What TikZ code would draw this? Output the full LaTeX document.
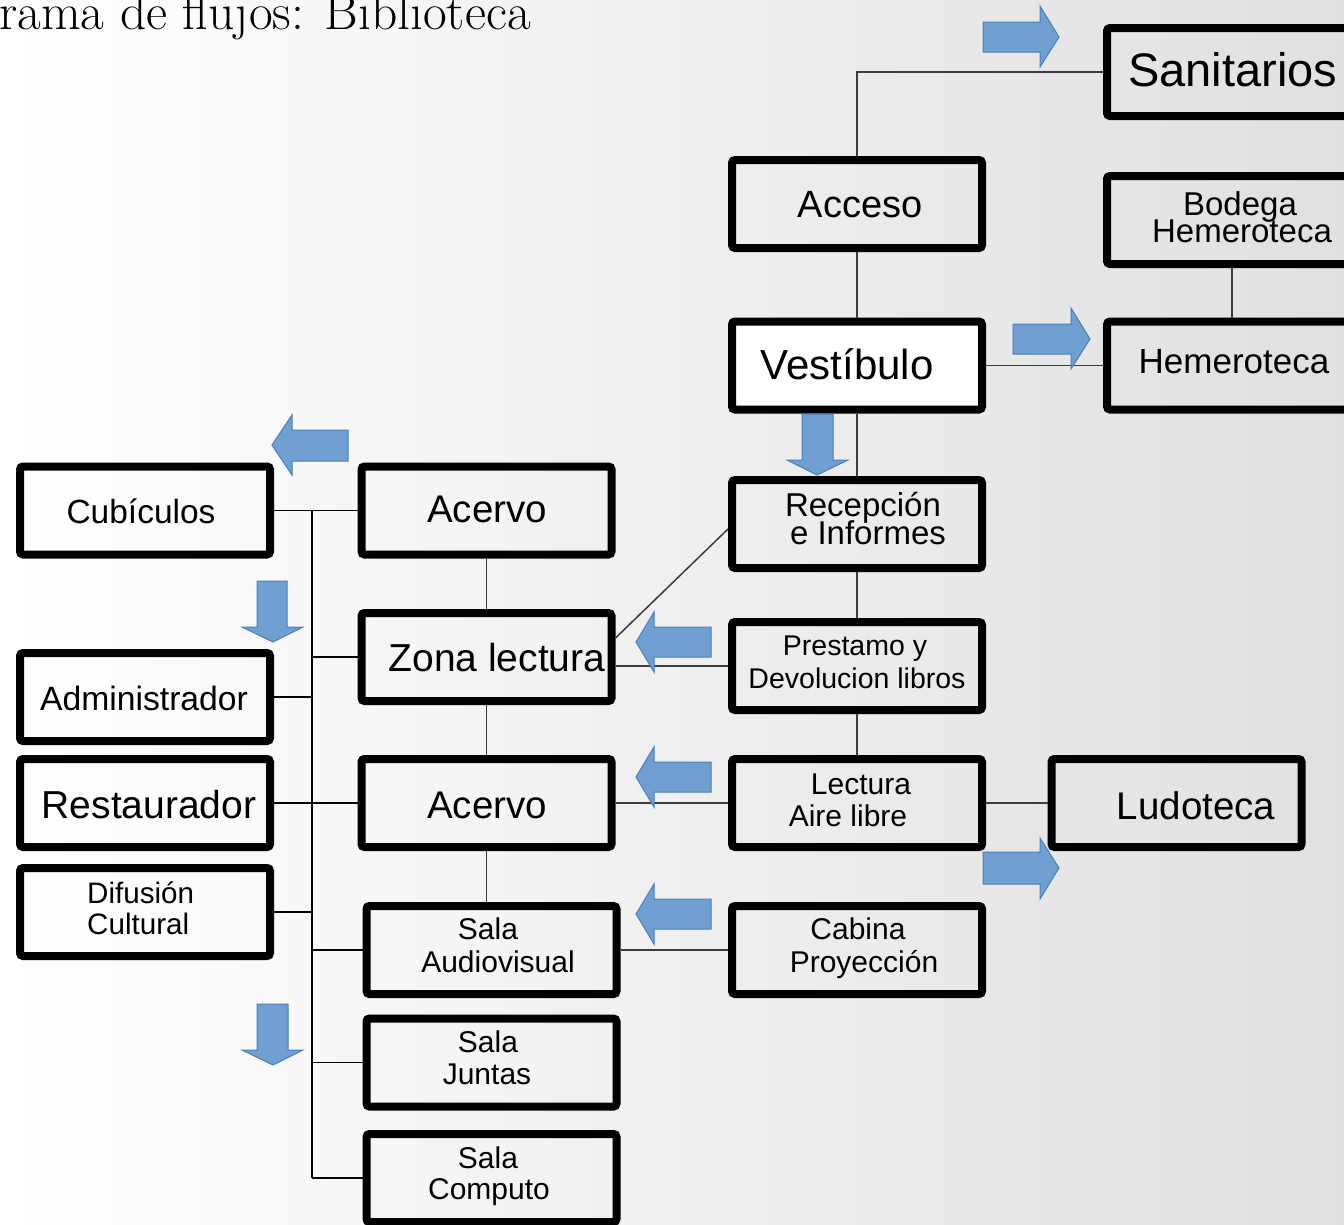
\documentclass[tikz,border=0pt]{standalone}
\usepackage{fontspec}
\newfontfamily\arialf{Liberation Sans}
\definecolor{arrowfill}{RGB}{112,159,210}
\definecolor{arrowedge}{RGB}{74,126,187}
\definecolor{connc}{RGB}{60,60,60}
\tikzset{
 box/.style={draw=black, line width=8pt, rounded corners=3pt, minimum width=250pt, minimum height=88pt, inner sep=0pt},
 lbl/.style={font=\arialf\fontsize{#1}{#1}\selectfont, inner sep=0pt, anchor=base},
 lbl/.default=30,
 conn/.style={draw=connc, line width=1.5pt},
 barrow/.style={fill=arrowfill, draw=arrowedge, line width=1pt, line join=miter},
}
\begin{document}
\begin{tikzpicture}[x=1pt,y=-1pt]
\useasboundingbox (0,0) rectangle (1344,1224);
\begin{scope}
\clip (0,0) rectangle (1344,1224);
\shade[left color=white, right color=black!12] (0,0) rectangle (1344,1224);

% title
\node[font=\fontsize{51.5}{51.5}\selectfont, anchor=base west, inner sep=0pt] (title) at (-1,29) {rama de flujos: Biblioteca};

% boxes
\node[box] (sanitarios) at (1232,72) {};
\node[box] (acceso) at (857,204) {};
\node[box] (bodega) at (1232,220) {};
\node[box, fill=white] (vestibulo) at (857,365.5) {};
\node[box] (hemeroteca) at (1232,365.5) {};
\node[box] (recepcion) at (857,524) {};
\node[box] (prestamo) at (857,666) {};
\node[box] (lectura) at (857,803) {};
\node[box] (ludoteca) at (1176.5,803) {};
\node[box] (cabina) at (857,950) {};
\node[box] (acervoA) at (486.5,510.5) {};
\node[box] (zona) at (486.5,657) {};
\node[box] (acervoB) at (486.5,803) {};
\node[box] (salaav) at (491.5,950) {};
\node[box] (salaj) at (491.5,1062.5) {};
\node[box] (salac) at (491.5,1178) {};
\node[box] (cubiculos) at (145,510.5) {};
\node[box] (admin) at (145,697) {};
\node[box] (restaurador) at (145,803) {};
\node[box] (difusion) at (145,912) {};

% labels
\node[lbl=47, anchor=base west] (t-san) at (1128,86) {Sanitarios};
\node[lbl=38] (t-acc) at (860,217) {Acceso};
\node[lbl=33] (t-bod1) at (1240,215) {Bodega};
\node[lbl=33] (t-bod2) at (1242,242) {Hemeroteca};
\node[lbl=42] (t-ves) at (847,379) {Vestíbulo};
\node[lbl=35] (t-hem) at (1234,373) {Hemeroteca};
\node[lbl=33] (t-rec1) at (863,516) {Recepción};
\node[lbl=33] (t-rec2) at (868,544) {e Informes};
\node[lbl=28.5] (t-pre1) at (855,655) {Prestamo y};
\node[lbl=28.5] (t-pre2) at (857,688) {Devolucion libros};
\node[lbl=30] (t-lec1) at (861,794) {Lectura};
\node[lbl=30] (t-lec2) at (848,826) {Aire libre};
\node[lbl=38.5] (t-lud) at (1196,819) {Ludoteca};
\node[lbl=30] (t-cab1) at (858,939) {Cabina};
\node[lbl=30] (t-cab2) at (864,972) {Proyección};
\node[lbl=38.5] (t-acA) at (487,522) {Acervo};
\node[lbl=39] (t-zon) at (497,671) {Zona lectura};
\node[lbl=38.5] (t-acB) at (487,818) {Acervo};
\node[lbl=30] (t-av1) at (488,939) {Sala};
\node[lbl=30] (t-av2) at (498,972) {Audiovisual};
\node[lbl=30] (t-sj1) at (488,1052) {Sala};
\node[lbl=30] (t-sj2) at (487,1084) {Juntas};
\node[lbl=30] (t-sc1) at (488,1168) {Sala};
\node[lbl=30] (t-sc2) at (489,1199) {Computo};
\node[lbl=33.5] (t-cub) at (141,523) {Cubículos};
\node[lbl=33.7] (t-adm) at (144,710) {Administrador};
\node[lbl=39] (t-res) at (149,818) {Restaurador};
\node[lbl=29.6, anchor=base west] (t-dif1) at (87,903) {Difusión};
\node[lbl=29.6, anchor=base west] (t-dif2) at (87,934) {Cultural};

% connectors
\draw[conn] (acceso.north) |- (sanitarios.west);
\draw[conn] (acceso.south) -- (vestibulo.north);
\draw[conn] (vestibulo.south) -- (recepcion.north);
\draw[conn] (recepcion.south) -- (prestamo.north);
\draw[conn] (prestamo.south) -- (lectura.north);
\draw[conn] (vestibulo.east) -- (hemeroteca.west);
\draw[conn] (bodega.south) -- (hemeroteca.north);
\draw[conn] (lectura.east) -- (ludoteca.west);
\draw[conn] ([yshift=-5pt]recepcion.west) -- ([yshift=19pt]zona.east);
\draw[conn] (prestamo.west) -- (prestamo.west -| zona.east);
\draw[conn] (lectura.west) -- (acervoB.east);
\draw[conn] (cabina.west) -- (salaav.east);
\draw[conn] (acervoA.south) -- (zona.north);
\draw[conn] (zona.south) -- (acervoB.north);
\draw[conn] (acervoB.south) -- (acervoB.south |- salaav.north);
\coordinate (bustop) at (312,510.5);
\coordinate (busbot) at (312,1178);
\draw[conn, draw=black] (cubiculos.east) -- (acervoA.west);
\draw[conn, draw=black] (bustop) -- (busbot);
\draw[conn, draw=black] (zona.west) -- (zona.west -| bustop);
\draw[conn, draw=black] (admin.east) -- (admin.east -| bustop);
\draw[conn, draw=black] (restaurador.east) -- (acervoB.west);
\draw[conn, draw=black] (difusion.east) -- (difusion.east -| bustop);
\draw[conn, draw=black] (salaav.west) -- (salaav.west -| bustop);
\draw[conn, draw=black] (salaj.west) -- (salaj.west -| bustop);
\draw[conn, draw=black] (salac.west) -- (salac.west -| bustop);

% block arrows
\draw[barrow] (983,22) -- (1040,22) -- (1040,6) -- (1059,37) -- (1040,67) -- (1040,52) -- (983,52) -- cycle;
\draw[barrow] (1013,324) -- (1071,324) -- (1071,308) -- (1090,339) -- (1071,369) -- (1071,354) -- (1013,354) -- cycle;
\draw[barrow] (802,414) -- (833,414) -- (833,460) -- (848,460) -- (817,475) -- (787,460) -- (802,460) -- cycle;
\draw[barrow] (348,430) -- (292,430) -- (292,415) -- (272,445) -- (292,475) -- (292,461) -- (348,461) -- cycle;
\draw[barrow] (257,581) -- (287,581) -- (287,627) -- (303,627) -- (273,642) -- (242,627) -- (257,627) -- cycle;
\draw[barrow] (711,627) -- (654,627) -- (654,612) -- (636,642) -- (654,672) -- (654,657) -- (711,657) -- cycle;
\draw[barrow] (711,762) -- (654,762) -- (654,747) -- (636,777) -- (654,807) -- (654,792) -- (711,792) -- cycle;
\draw[barrow] (711,899) -- (654,899) -- (654,884) -- (636,914) -- (654,944) -- (654,929) -- (711,929) -- cycle;
\draw[barrow] (983,852) -- (1040,852) -- (1040,838) -- (1059,868) -- (1040,899) -- (1040,884) -- (983,884) -- cycle;
\draw[barrow] (257,1004) -- (288,1004) -- (288,1050) -- (303,1050) -- (273,1065) -- (242,1050) -- (257,1050) -- cycle;
\end{scope}
\end{tikzpicture}
\end{document}
